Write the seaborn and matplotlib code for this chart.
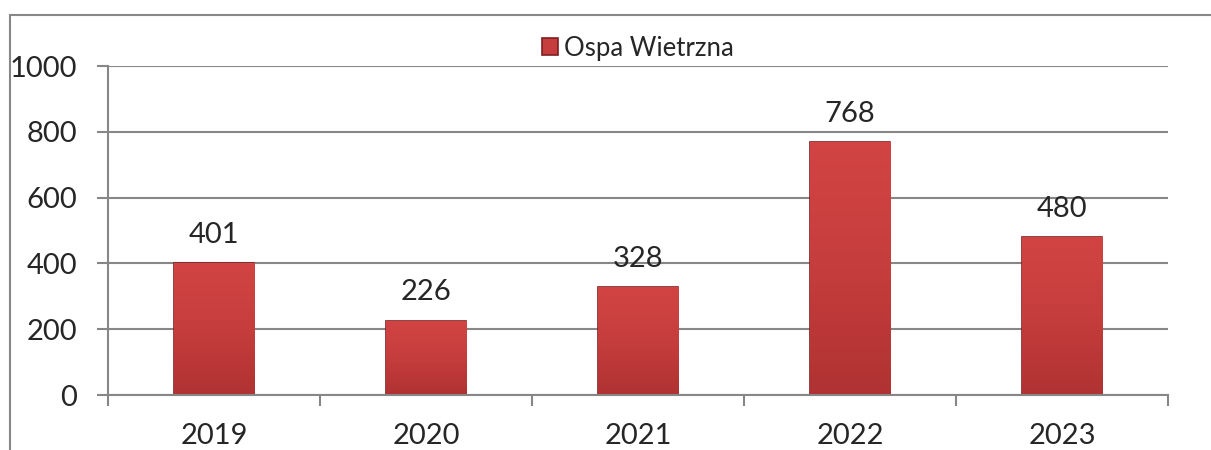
import matplotlib
matplotlib.use("Agg")
import matplotlib.pyplot as plt
import numpy as np
import pandas as pd
import seaborn as sns
from matplotlib.colors import LinearSegmentedColormap
from matplotlib.patches import Rectangle

# chart data
years = ["2019", "2020", "2021", "2022", "2023"]
cases = [401, 226, 328, 768, 480]
series_name = "Ospa Wietrzna"

df = pd.DataFrame({"year": years, "cases": cases})

sns.set_theme(style="white")
plt.rcParams["font.family"] = ["Lato", "DejaVu Sans"]

grey = "#878787"
bar_color = "#C63D3D"

fig = plt.figure(figsize=(12.11, 4.5), dpi=100)
ax = fig.add_axes([0.0892, 0.1222, 0.8753, 0.7311])

sns.barplot(data=df, x="year", y="cases", color=bar_color, width=0.38,
            saturation=1, edgecolor="#7E2020", linewidth=1.2,
            label=series_name, ax=ax)

ax.set_ylim(0, 1000)
ax.set_xlim(-0.5, len(years) - 0.5)
ax.set_yticks(np.arange(0, 1001, 200))
ax.yaxis.grid(True, color=grey, linewidth=1.5)
ax.set_axisbelow(True)
ax.set_xlabel("")
ax.set_ylabel("")

# soft shading inside each bar, clipped to the bar itself
shade = LinearSegmentedColormap.from_list("shade", ["#B03232", "#C63D3D", "#D24444"])
grad = np.linspace(0, 1, 64).reshape(-1, 1)
for patch in ax.patches:
    x0, y0 = patch.get_x(), patch.get_y()
    w, h = patch.get_width(), patch.get_height()
    im = ax.imshow(grad, cmap=shade, aspect="auto", origin="lower",
                   extent=[x0, x0 + w, y0, y0 + h], zorder=patch.get_zorder() + 0.1)
    im.set_clip_path(patch)
ax.set_xlim(-0.5, len(years) - 0.5)
ax.set_ylim(0, 1000)

for side in ["top", "right"]:
    ax.spines[side].set_visible(False)
for side in ["left", "bottom"]:
    ax.spines[side].set_color(grey)
    ax.spines[side].set_linewidth(1.5)

ax.tick_params(axis="y", direction="out", length=8, width=1.5, color=grey,
               labelsize=21, pad=14, left=True)
ax.tick_params(axis="x", which="major", length=0, labelsize=21, pad=20)
ax.set_xticks(np.arange(-0.5, len(years)), minor=True)
ax.tick_params(axis="x", which="minor", direction="out", length=8,
               width=1.5, color=grey, bottom=True)

for c in ax.containers:
    ax.bar_label(c, labels=[str(v) for v in cases], padding=11, fontsize=21)

leg = ax.legend(loc="lower center", bbox_to_anchor=(0.5, 0.985), frameon=False,
                fontsize=18.5, handlelength=0.6, handleheight=0.6,
                handletextpad=0.25, borderaxespad=0.0)

# outer chart border
fig.patches.append(Rectangle((10 / 1211, -0.05), 1.1, 1 - 15 / 450 + 0.05,
                             transform=fig.transFigure, fill=False,
                             edgecolor=grey, linewidth=1.5))

fig.savefig("out.png", dpi=100)
